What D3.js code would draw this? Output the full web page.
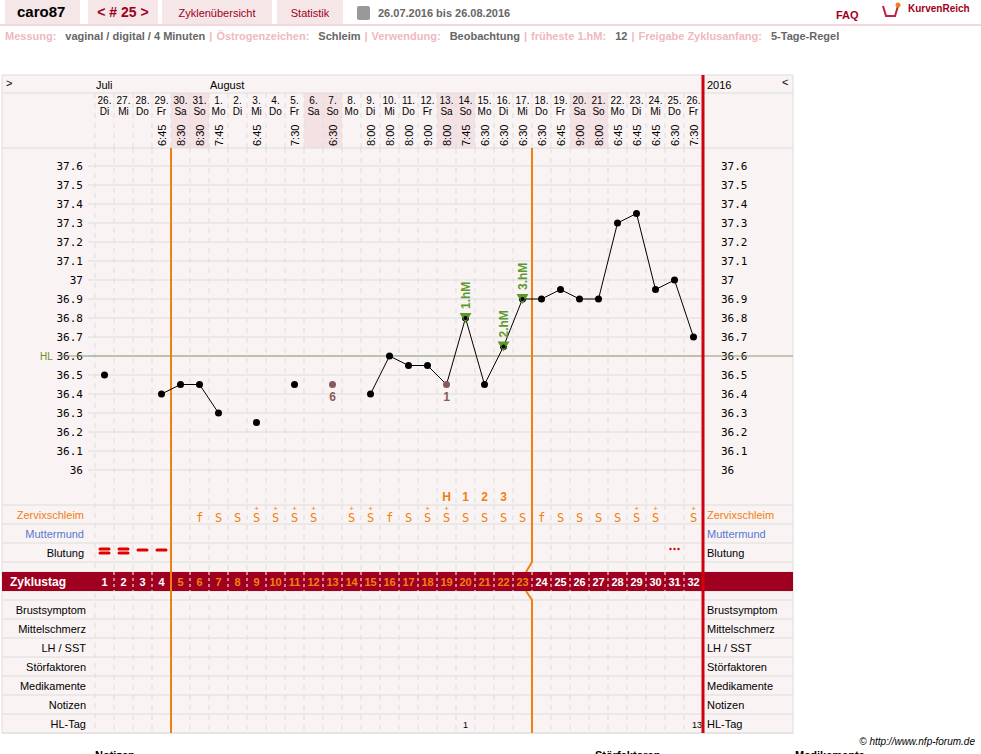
<!DOCTYPE html>
<html><head><meta charset="utf-8">
<script src="https://cdn.jsdelivr.net/npm/d3@7"></script>
<style>
body{margin:0;background:#fff;font-family:"Liberation Sans Narrow","Liberation Sans",Arial,sans-serif;}
</style></head><body>
<script>
// chart data
var days = d3.range(1, 33);
var dates = ["26.","27.","28.","29.","30.","31.","1.","2.","3.","4.","5.","6.","7.","8.","9.","10.","11.","12.","13.","14.","15.","16.","17.","18.","19.","20.","21.","22.","23.","24.","25.","26."];
var weekdays = ["Di","Mi","Do","Fr","Sa","So","Mo","Di","Mi","Do","Fr","Sa","So","Mo","Di","Mi","Do","Fr","Sa","So","Mo","Di","Mi","Do","Fr","Sa","So","Mo","Di","Mi","Do","Fr"];
var times = ["","","","6:45","8:30","8:30","7:45","","6:45","","7:30","","6:30","","8:00","8:00","8:00","9:00","8:00","7:45","6:30","6:30","6:30","6:30","6:45","9:00","8:00","6:45","6:45","6:45","6:30","7:30"];
var weekendDays = [5,6,12,13,19,20,26,27];
var temps = [36.5,null,null,36.4,36.45,36.45,36.3,null,36.25,null,36.45,null,36.45,null,36.4,36.6,36.55,36.55,36.45,36.8,36.45,36.65,36.9,36.9,36.95,36.9,36.9,37.3,37.35,36.95,37.0,36.7];
var excluded = {13:"6", 19:"1"};
var highMarks = {20:"1.hM", 22:"2.hM", 23:"3.hM"};
var isolated = [1, 9, 11, 13];
var tempTicks = [36,36.1,36.2,36.3,36.4,36.5,36.6,36.7,36.8,36.9,37,37.1,37.2,37.3,37.4,37.5,37.6];
var coverLine = 36.6;
var mucus = ["","","","","","f","S","S","S+","S+","S+","S+","","S+","S+","f","S","S+","S+","S","S","S","S","f","S","S","S","S","S+","S+","","S+"];
var peakCount = {19:"H",20:"1",21:"2",22:"3"};
var bleeding = {1:2,2:2,3:1,4:1,31:"dots"};
var hlTag = {20:"1",32:"13"};
var rowLabels = ["Brustsymptom","Mittelschmerz","LH / SST","Störfaktoren","Medikamente","Notizen","HL-Tag"];

var W = 981, H = 754;
var svg = d3.select("body").append("svg").attr("width", W).attr("height", H)
  .style("font-family", '"Liberation Sans Narrow","Liberation Sans",Arial,sans-serif');

// header
var tabs = [["caro87",5,75,"#000",true,15],["< # 25 >",88,70,"#a00020",true,14],["Zyklenübersicht",162,110,"#a00020",false,11],["Statistik",277,66,"#a00020",false,11]];
tabs.forEach(function(t){
  svg.append("rect").attr("x",t[1]).attr("y",0).attr("width",t[2]).attr("height",25).attr("fill","#f5e6e8");
  svg.append("text").attr("x",t[1]+(t[0]=="caro87"?12:t[2]/2)).attr("y",17).attr("text-anchor",t[0]=="caro87"?"start":"middle")
    .attr("fill",t[3]).attr("font-weight",t[4]?"bold":"normal").attr("font-size",t[5]).text(t[0]);
});
svg.append("rect").attr("x",0).attr("y",24).attr("width",W).attr("height",2).attr("fill","#f0d8dc");
svg.append("rect").attr("x",357).attr("y",6).attr("width",13).attr("height",14).attr("rx",2).attr("fill","#999");
svg.append("text").attr("x",378).attr("y",17).attr("font-size",11).attr("font-weight","bold").attr("fill","#666").text("26.07.2016 bis 26.08.2016");
svg.append("text").attr("x",836).attr("y",19).attr("font-size",11).attr("font-weight","bold").attr("fill","#a00020").text("FAQ");
svg.append("path").attr("d","M883,6 L886,16 L895,16 L898,6").attr("stroke","#c02040").attr("stroke-width",2).attr("fill","none");
svg.append("circle").attr("cx",898).attr("cy",5).attr("r",2.5).attr("fill","#f08020");
svg.append("text").attr("x",908).attr("y",12).attr("font-size",10).attr("font-weight","bold").attr("fill","#a00020").text("KurvenReich");

var info = [["Messung:","#f0b8c0"],["vaginal / digital / 4 Minuten","#666"],["|","#f0b8c0"],["Östrogenzeichen:","#f0b8c0"],["Schleim","#666"],["|","#f0b8c0"],["Verwendung:","#f0b8c0"],["Beobachtung","#666"],["|","#f0b8c0"],["früheste 1.hM:","#f0b8c0"],["12","#666"],["|","#f0b8c0"],["Freigabe Zyklusanfang:","#f0b8c0"],["5-Tage-Regel","#666"]];
var it = svg.append("text").attr("x",5).attr("y",40).attr("font-size",11).attr("font-weight","bold");
info.forEach(function(d,i){ it.append("tspan").attr("fill",d[1]).attr("dx", i ? (d[0]=="|"||info[i-1][0]=="|" ? 4 : 9) : 0).text(d[0]); });

// chart scales
var x = d3.scaleBand().domain(days).range([95, 703]);
var y = d3.scaleLinear().domain([36, 37.6]).range([470, 166]);
var cx = function(d){ return x(d) + x.bandwidth()/2; };

var bg = "#f9f3f3";
svg.append("rect").attr("x",2).attr("y",75).attr("width",791).attr("height",658).attr("fill",bg).attr("stroke","#ddd");
// weekend shading in header
weekendDays.forEach(function(d){
  svg.append("rect").attr("x",x(d)).attr("y",93).attr("width",x.bandwidth()).attr("height",55).attr("fill","#f3e1e3");
});
// rows
var rowLines = [93,148,505,524,543,562,572,591,600,619,638,657,676,695,714,733];
rowLines.forEach(function(r){
  svg.append("line").attr("x1",2).attr("x2",793).attr("y1",r).attr("y2",r).attr("stroke","#ddd");
});
// dashed column dividers
days.slice(1).forEach(function(d){
  [[93,148],[148,505],[505,733]].forEach(function(s){
    svg.append("line").attr("x1",x(d)).attr("x2",x(d)).attr("y1",s[0]).attr("y2",s[1]).attr("stroke","#ddd").attr("stroke-dasharray","5,5");
  });
});
svg.append("line").attr("x1",95).attr("x2",95).attr("y1",93).attr("y2",733).attr("stroke","#ddd").attr("stroke-dasharray","5,5");

// temperature grid + axes
var gy = svg.append("g");
tempTicks.forEach(function(t){
  gy.append("line").attr("x1",88).attr("x2",703).attr("y1",y(t)).attr("y2",y(t)).attr("stroke","#ddd");
});
svg.append("g").attr("transform","translate(88,0)").call(d3.axisLeft(y).tickValues(tempTicks).tickSize(0).tickPadding(5).tickFormat(d3.format("~g")))
  .call(function(g){ g.select(".domain").remove(); g.selectAll("text").attr("font-family","DejaVu Sans Mono, monospace").attr("font-size",11).attr("fill","#000"); });
svg.append("g").attr("transform","translate(721,0)").call(d3.axisRight(y).tickValues(tempTicks).tickSize(0).tickPadding(0).tickFormat(d3.format("~g")))
  .call(function(g){ g.select(".domain").remove(); g.selectAll("text").attr("font-family","DejaVu Sans Mono, monospace").attr("font-size",11).attr("fill","#000"); });
// cover line
svg.append("line").attr("x1",58).attr("x2",793).attr("y1",y(coverLine)).attr("y2",y(coverLine)).attr("stroke","#8a9a70");
svg.append("text").attr("x",40).attr("y",y(coverLine)+4).attr("font-size",10).attr("fill","#6b8e23").text("HL");

// header texts
svg.append("text").attr("x",6).attr("y",87).attr("font-size",11).text(">");
svg.append("text").attr("x",96).attr("y",89).attr("font-size",11).text("Juli");
svg.append("text").attr("x",210).attr("y",89).attr("font-size",11).text("August");
svg.append("text").attr("x",707).attr("y",89).attr("font-size",11).text("2016");
svg.append("text").attr("x",782).attr("y",86).attr("font-size",11).text("<");
days.forEach(function(d,i){
  svg.append("text").attr("x",cx(d)).attr("y",104).attr("text-anchor","middle").attr("font-size",10).text(dates[i]);
  svg.append("text").attr("x",cx(d)).attr("y",115).attr("text-anchor","middle").attr("font-size",10).text(weekdays[i]);
  if (times[i]) svg.append("text").attr("transform","translate("+(cx(d)+4)+",146) rotate(-90)").attr("font-size",11).text(times[i]);
});

// cycle-phase lines
var o1 = x(5), o2 = x(24);
svg.append("line").attr("x1",o1).attr("x2",o1).attr("y1",148).attr("y2",733).attr("stroke","#f08010").attr("stroke-width",2);
svg.append("path").attr("d","M"+o2+",148 V562 L"+(o2-6)+",572 M"+(o2-6)+",591 L"+o2+",600 V733").attr("fill","none").attr("stroke","#f08010").attr("stroke-width",2);

// temperature curve
var line = d3.line().defined(function(d){ return d.t != null && isolated.indexOf(d.d) < 0; }).x(function(d){ return cx(d.d); }).y(function(d){ return y(d.t); });
var pts = days.map(function(d,i){ return {d:d, t:temps[i]}; });
svg.append("path").datum(pts).attr("d",line).attr("fill","none").attr("stroke","#000");
pts.filter(function(p){ return p.t != null; }).forEach(function(p){
  var ex = excluded[p.d];
  svg.append("circle").attr("cx",cx(p.d)).attr("cy",y(p.t)).attr("r",3.5).attr("fill", ex ? "#8a5a5a" : "#000");
  if (ex) svg.append("text").attr("x",cx(p.d)).attr("y",y(p.t)+16).attr("text-anchor","middle").attr("font-size",12).attr("font-weight","bold").attr("fill","#8a5a5a").text(ex);
  if (highMarks[p.d]) {
    var px = cx(p.d), py = y(p.t);
    svg.append("path").attr("d","M"+(px-6)+","+(py-5)+" L"+(px+6)+","+(py-5)+" L"+px+","+(py+5)+"Z").attr("fill","#5a9a2a");
    svg.append("circle").attr("cx",px).attr("cy",py).attr("r",2).attr("fill","#000");
    svg.append("text").attr("transform","translate("+(px+4)+","+(py-9)+") rotate(-90)").attr("font-size",12).attr("font-weight","bold").attr("fill","#5a9a2a").text(highMarks[p.d]);
  }
});

// observation rows
var orange = "#f08010";
svg.append("text").attr("x",84).attr("y",519).attr("text-anchor","end").attr("font-size",11).attr("fill",orange).text("Zervixschleim");
svg.append("text").attr("x",84).attr("y",538).attr("text-anchor","end").attr("font-size",11).attr("fill","#5a78d0").text("Muttermund");
svg.append("text").attr("x",84).attr("y",557).attr("text-anchor","end").attr("font-size",11).attr("fill","#000").text("Blutung");
svg.append("text").attr("x",707).attr("y",519).attr("font-size",11).attr("fill",orange).text("Zervixschleim");
svg.append("text").attr("x",707).attr("y",538).attr("font-size",11).attr("fill","#5a78d0").text("Muttermund");
svg.append("text").attr("x",707).attr("y",557).attr("font-size",11).text("Blutung");
Object.keys(peakCount).forEach(function(k){
  svg.append("text").attr("x",cx(+k)).attr("y",501).attr("text-anchor","middle").attr("font-size",12).attr("font-weight","bold").attr("fill",orange).text(peakCount[k]);
});
days.forEach(function(d,i){
  var m = mucus[i]; if (!m) return;
  svg.append("text").attr("x",cx(d)).attr("y",522).attr("text-anchor","middle").attr("font-size",12).attr("font-family","DejaVu Sans Mono, monospace").attr("fill",orange).text(m[0].toLowerCase()=="f"?"f":"S");
  if (m.length > 1) svg.append("text").attr("x",cx(d)).attr("y",511).attr("text-anchor","middle").attr("font-size",8).attr("fill",orange).text("+");
});
Object.keys(bleeding).forEach(function(k){
  var b = bleeding[k], px = cx(+k);
  if (b == "dots") { [-4,0,4].forEach(function(o){ svg.append("circle").attr("cx",px+o).attr("cy",549).attr("r",1.2).attr("fill","#d00"); }); return; }
  var ys = b == 2 ? [549,553] : [550];
  ys.forEach(function(yy){ svg.append("rect").attr("x",px-6).attr("y",yy-1.5).attr("width",12).attr("height",3).attr("rx",1.5).attr("fill","#e00000"); });
});

// Zyklustag band
svg.append("rect").attr("x",2).attr("y",572).attr("width",791).attr("height",19).attr("fill","#a00020");
svg.append("text").attr("x",10).attr("y",586).attr("font-size",12).attr("font-weight","bold").attr("fill","#fff").text("Zyklustag");
days.forEach(function(d){
  if (d > 1) svg.append("line").attr("x1",x(d)).attr("x2",x(d)).attr("y1",572).attr("y2",591).attr("stroke","#fff").attr("stroke-dasharray","3,3");
  svg.append("text").attr("x",cx(d)).attr("y",586).attr("text-anchor","middle").attr("font-size",11).attr("font-weight","bold")
    .attr("fill", d >= 5 && d <= 23 ? orange : "#fff").text(d);
});
svg.append("line").attr("x1",o1).attr("x2",o1).attr("y1",572).attr("y2",591).attr("stroke",orange).attr("stroke-width",2);

rowLabels.forEach(function(l,i){
  var yy = 614 + i*19;
  svg.append("text").attr("x",86).attr("y",yy).attr("text-anchor","end").attr("font-size",11).text(l);
  svg.append("text").attr("x",707).attr("y",yy).attr("font-size",11).text(l);
});
Object.keys(hlTag).forEach(function(k){
  svg.append("text").attr("x", +k==32 ? x(32)+x.bandwidth()-1 : cx(+k)).attr("y",728).attr("text-anchor", +k==32?"end":"middle").attr("font-size",9).text(hlTag[k]);
});

// end-of-cycle line
svg.append("line").attr("x1",703).attr("x2",703).attr("y1",75).attr("y2",733).attr("stroke","#d00010").attr("stroke-width",3);

svg.append("text").attr("x",975).attr("y",745).attr("text-anchor","end").attr("font-size",10).attr("font-style","italic").text("© http://www.nfp-forum.de");
[["Notizen",95],["Störfaktoren",595],["Medikamente",795]].forEach(function(n){
  svg.append("text").attr("x",n[1]).attr("y",759).attr("font-size",11).attr("font-weight","bold").text(n[0]);
});
</script>
</body></html>
